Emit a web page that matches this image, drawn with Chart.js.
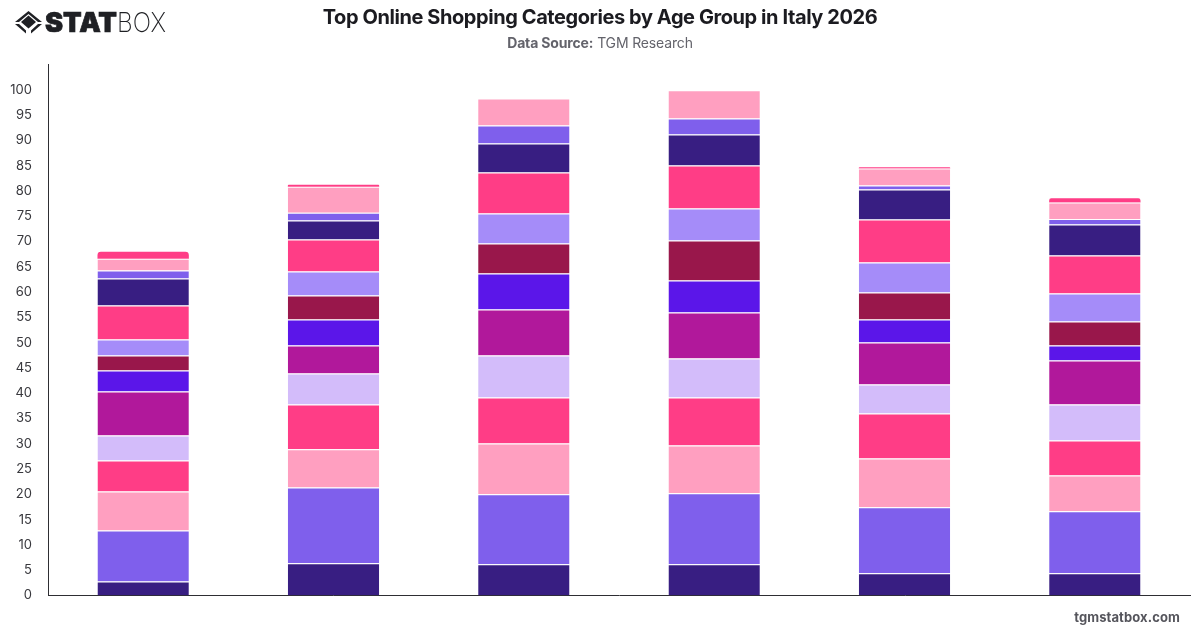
<!DOCTYPE html>
<html>
<head>
<meta charset="utf-8">
<title>Top Online Shopping Categories by Age Group in Italy 2026</title>
<script src="https://cdn.jsdelivr.net/npm/chart.js@4/dist/chart.umd.min.js"></script>
<style>
    html, body { margin: 0; padding: 0; background: #fff; }
    body { width: 1200px; height: 628px; position: relative; overflow: hidden; font-family: Inter, sans-serif; }
    #chartBox { position: absolute; left: 0; top: 0; width: 1200px; height: 628px; }
    #logo { position: absolute; left: 0; top: 0; }
    #title { position: absolute; left: 0; top: 4px; width: 1200px; text-align: center; font-size: 20px; line-height: 26px; font-weight: 700; letter-spacing: -0.42px; color: #1b1b20; }
    #source { position: absolute; left: 0; top: 34px; width: 1200px; text-align: center; font-size: 14px; line-height: 18px; letter-spacing: -0.15px; color: #63636b; }
    #source b { font-weight: 700; }
    #site { position: absolute; right: 20px; top: 608px; font-size: 13px; line-height: 18px; font-weight: 700; letter-spacing: 0.1px; color: #55555c; }
</style>
</head>
<body>
<div id="chartBox"><canvas id="myChart"></canvas></div>

<svg id="logo" width="180" height="44" fill="#1f2024">
    <!-- diamond mark -->
    <polygon points="28.5,15.5 36,22 28.5,28.5 21,22"/>
    <polygon points="28.5,11 15,22 19,22 28.5,14 38,22 42,22"/>
    <polygon points="19,24 15,24 26,33.5 26,30.5"/>
    <polygon points="38,24 42,24 31,33.5 31,30.5"/>
    <text x="45" y="32" font-family="Inter, sans-serif" font-size="27" font-weight="900" stroke="#1f2024" stroke-width="0.7" textLength="72" lengthAdjust="spacingAndGlyphs">STAT</text>
    <text x="117" y="32" font-family="Inter, sans-serif" font-size="27" font-weight="200" textLength="49" lengthAdjust="spacingAndGlyphs">BOX</text>
</svg>

<div id="title">Top Online Shopping Categories by Age Group in Italy 2026</div>
<div id="source"><b>Data Source:</b> TGM Research</div>
<div id="site">tgmstatbox.com</div>

<script>
// data
const ageGroups = ['16-24', '25-34', '35-44', '45-54', '55-64', '65+'];

// one array per stacked segment, bottom to top
const series01 = [2.77, 6.36, 6.17, 6.17, 4.39, 4.39];
const series02 = [10.08, 15.02, 13.83, 14.03, 13.04, 12.25];
const series03 = [7.7, 7.52, 10.08, 9.48, 9.68, 7.11];
const series04 = [6.15, 8.85, 9.09, 9.49, 8.89, 6.92];
const series05 = [4.95, 6.15, 8.3, 7.71, 5.74, 7.1];
const series06 = [8.7, 5.55, 9.09, 9.09, 8.3, 8.7];
const series07 = [4.15, 5.15, 7.12, 6.32, 4.54, 2.98];
const series08 = [2.95, 4.7, 5.92, 7.91, 5.34, 4.74];
const series09 = [3.15, 4.75, 5.93, 6.32, 5.93, 5.53];
const series10 = [6.75, 6.35, 8.11, 8.5, 8.49, 7.51];
const series11 = [5.35, 3.75, 5.73, 6.13, 5.93, 6.13];
const series12 = [1.55, 1.55, 3.55, 3.15, 0.8, 1.11];
const series13 = [2.35, 5.15, 5.38, 5.6, 3.36, 3.23];
const series14 = [1.35, 0.35, 0, 0, 0.27, 0.86];

const allSeries = [series01, series02, series03, series04, series05, series06, series07,
    series08, series09, series10, series11, series12, series13, series14];

const colors = ['#381e82', '#7f5fec', '#ff9fc0', '#ff3d86', '#d3bcfa', '#b1189b', '#5b16e9',
    '#99174b', '#a58cf9', '#ff3d86', '#381e82', '#7f5fec', '#ff9fc0', '#ff3d86'];

const lastIndex = allSeries.length - 1;

const ctx = document.getElementById('myChart').getContext('2d');
const myChart = new Chart(ctx, {
    type: 'bar',
    data: {
        labels: ageGroups,
        datasets: allSeries.map((values, i) => ({
            label: 'Category ' + (i + 1),
            data: values,
            backgroundColor: colors[i],
            borderColor: '#fff',
            // white gap above each segment, the last one sits on the gap below it
            borderWidth: i == lastIndex ? 0 : { top: 1, right: 0, bottom: 0, left: 0 },
            borderRadius: i == lastIndex ? { topLeft: 4, topRight: 4 } : 0,
            barPercentage: 0.6,
            categoryPercentage: 0.8,
        }))
    },
    options: {
        responsive: true,
        maintainAspectRatio: false,
        animation: false,
        events: [],
        layout: { padding: { top: 64.5, right: 10, bottom: 32.5, left: 0 } },
        plugins: {
            legend: { display: false },
            title: { display: false },
            tooltip: { enabled: false },
        },
        scales: {
            x: {
                stacked: true,
                grid: { display: false, drawTicks: false },
                border: { color: '#2e2e33', width: 1 },
                ticks: { display: false },
            },
            y: {
                stacked: true,
                min: 0,
                max: 105,
                afterFit: (scale) => { scale.width = 48; },
                // axis runs up to 105 but the labels stop at 100
                afterBuildTicks: (scale) => { scale.ticks = scale.ticks.filter(t => t.value <= 100); },
                grid: { display: false, drawTicks: false },
                border: { color: '#2e2e33', width: 1 },
                ticks: {
                    stepSize: 5,
                    padding: 16,
                    color: '#38383d',
                    font: { family: 'Inter', size: 13 },
                },
            },
        },
    },
});
</script>
</body>
</html>
